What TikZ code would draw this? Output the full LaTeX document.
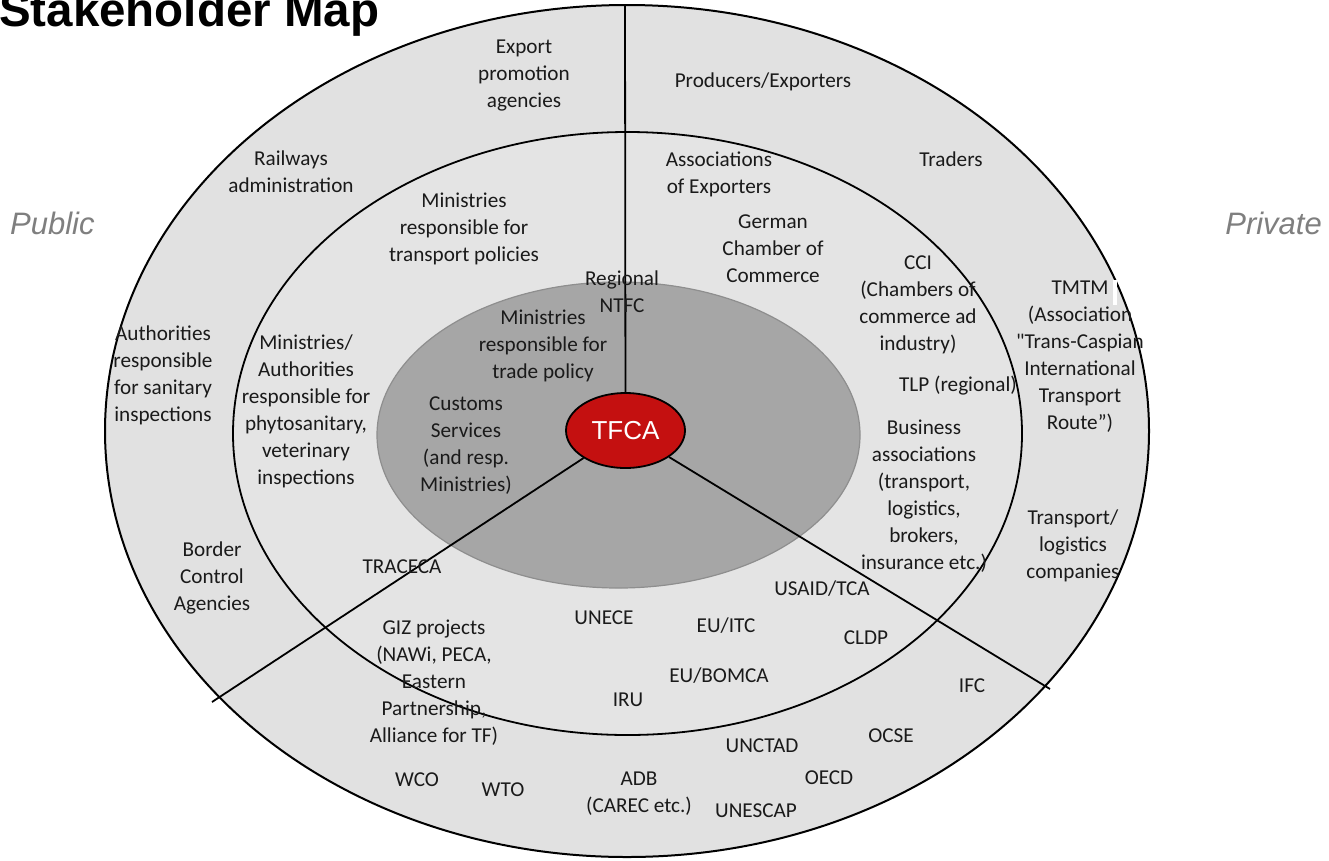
\documentclass[tikz,border=0pt]{standalone}
\usepackage{fontspec}
\setmainfont{Carlito}
\newfontfamily\calplain{Carlito}
\newfontfamily\arialf{Liberation Sans}
\usetikzlibrary{shapes.geometric}
\definecolor{ringgray}{HTML}{E1E1E1}
\definecolor{midgray}{HTML}{E4E4E4}
\definecolor{innergray}{HTML}{A6A6A6}
\definecolor{innerborder}{HTML}{8E8E8E}
\definecolor{tfcared}{HTML}{C41010}
\definecolor{sidegray}{HTML}{7F7F7F}
\definecolor{txt}{HTML}{1A1A1A}
\begin{document}
\begin{tikzpicture}[x=1pt,y=-1pt,
  lbl/.style={align=center, inner sep=0pt, font=\fontsize{21.2}{27}\selectfont, text=txt},
  ring/.style={line width=2pt, draw=black},
  spoke/.style={line width=1.8pt, draw=black}]
\useasboundingbox (0,0) rectangle (1329,860);
\fill[white] (0,0) rectangle (1329,860);
% rings
\draw[ring, fill=ringgray] (627,431) ellipse [x radius=522pt, y radius=426pt];
\draw[ring, line width=1.8pt, fill=midgray] (627.5,433.5) ellipse [x radius=394.5pt, y radius=301.5pt];
\draw[line width=1.2pt, draw=innerborder, fill=innergray] (618.5,435) ellipse [x radius=241.5pt, y radius=153pt];
% spokes
\node[ellipse, draw=black, line width=1.8pt, fill=tfcared, minimum width=119pt, minimum height=75pt,
  inner sep=0pt, text=white, font=\arialf\fontsize{26}{30}\selectfont] (tfca) at (625.5,430.5) {TFCA};
\coordinate (topend) at (625,5);
\coordinate (llend) at (212,702);
\coordinate (lrend) at (1050,689);
\draw[spoke] (tfca) -- (topend);
\draw[spoke] (tfca) -- (llend);
\draw[spoke] (tfca) -- (lrend);
% title and sides
\node[anchor=base west, inner sep=0pt, font=\arialf\bfseries\fontsize{47.5}{50}\selectfont] (title) at (-1,26) {Stakeholder Map};
\node[anchor=base west, inner sep=0pt, font=\arialf\itshape\fontsize{31}{34}\selectfont, text=sidegray] (public) at (10,234) {Public};
\node[anchor=base east, inner sep=0pt, font=\arialf\itshape\fontsize{31}{34}\selectfont, text=sidegray] (private) at (1322,234) {Private};
% outer ring labels
\node[lbl] (export) at (524,76) {Export\\promotion\\agencies};
\node[lbl] (producers) at (763,82) {Producers/Exporters};
\node[lbl] (railways) at (291,172) {Railways\\administration};
\node[lbl] (traders) at (951,159) {Traders};
\node[lbl] (sanitary) at (163,375) {Authorities\\responsible\\for sanitary\\inspections};
\node[lbl] (tmtm) at (1080,357) {TMTM\\(Association\\{\calplain"}Trans-Caspian\\International\\Transport\\Route”)};
\fill[white] (1113,280) rectangle (1117,305);
\node[lbl] (transport) at (1073,546) {Transport/\\logistics\\companies};
\node[lbl] (border) at (212,578) {Border\\Control\\Agencies};
\node[lbl] (ifc) at (972,686) {IFC};
\node[lbl] (ocse) at (891,736) {OCSE};
\node[lbl] (unctad) at (762,746) {UNCTAD};
\node[lbl] (oecd) at (829,778) {OECD};
\node[lbl] (adb) at (639,794) {ADB\\(CAREC etc.)};
\node[lbl] (unescap) at (756,811) {UNESCAP};
\node[lbl] (wco) at (417,780) {WCO};
\node[lbl] (wto) at (503,790) {WTO};
% middle ring labels
\node[lbl] (mintransport) at (464,229) {Ministries\\responsible for\\transport policies};
\node[lbl] (assoc) at (719,174) {Associations\\of Exporters};
\node[lbl] (german) at (773,249) {German\\Chamber of\\Commerce};
\node[lbl] (cci) at (918,305) {CCI\\(Chambers of\\commerce ad\\industry)};
\node[lbl] (tlp) at (958,386) {TLP (regional)};
\node[lbl] (business) at (924,496) {Business\\associations\\(transport,\\logistics,\\brokers,\\insurance etc.)};
\node[lbl] (phyto) at (306,411) {Ministries/\\Authorities\\responsible for\\phytosanitary,\\veterinary\\inspections};
\node[lbl] (traceca) at (402,567) {TRACECA};
\node[lbl] (usaid) at (822,589) {USAID/TCA};
\node[lbl] (unece) at (604,618) {UNECE};
\node[lbl] (euitc) at (726,626) {EU/ITC};
\node[lbl] (cldp) at (866,638) {CLDP};
\node[lbl] (giz) at (434,683) {GIZ projects\\(NAWi, PECA,\\Eastern\\Partnership,\\Alliance for TF)};
\node[lbl] (bomca) at (719,676) {EU/BOMCA};
\node[lbl] (iru) at (628,700) {IRU};
% inner labels
\node[lbl] (ntfc) at (622,292) {Regional\\NTFC};
\node[lbl] (mintrade) at (543,346) {Ministries\\responsible for\\trade policy};
\node[lbl] (customs) at (466,446) {Customs\\Services\\(and resp.\\Ministries)};
\end{tikzpicture}
\end{document}
